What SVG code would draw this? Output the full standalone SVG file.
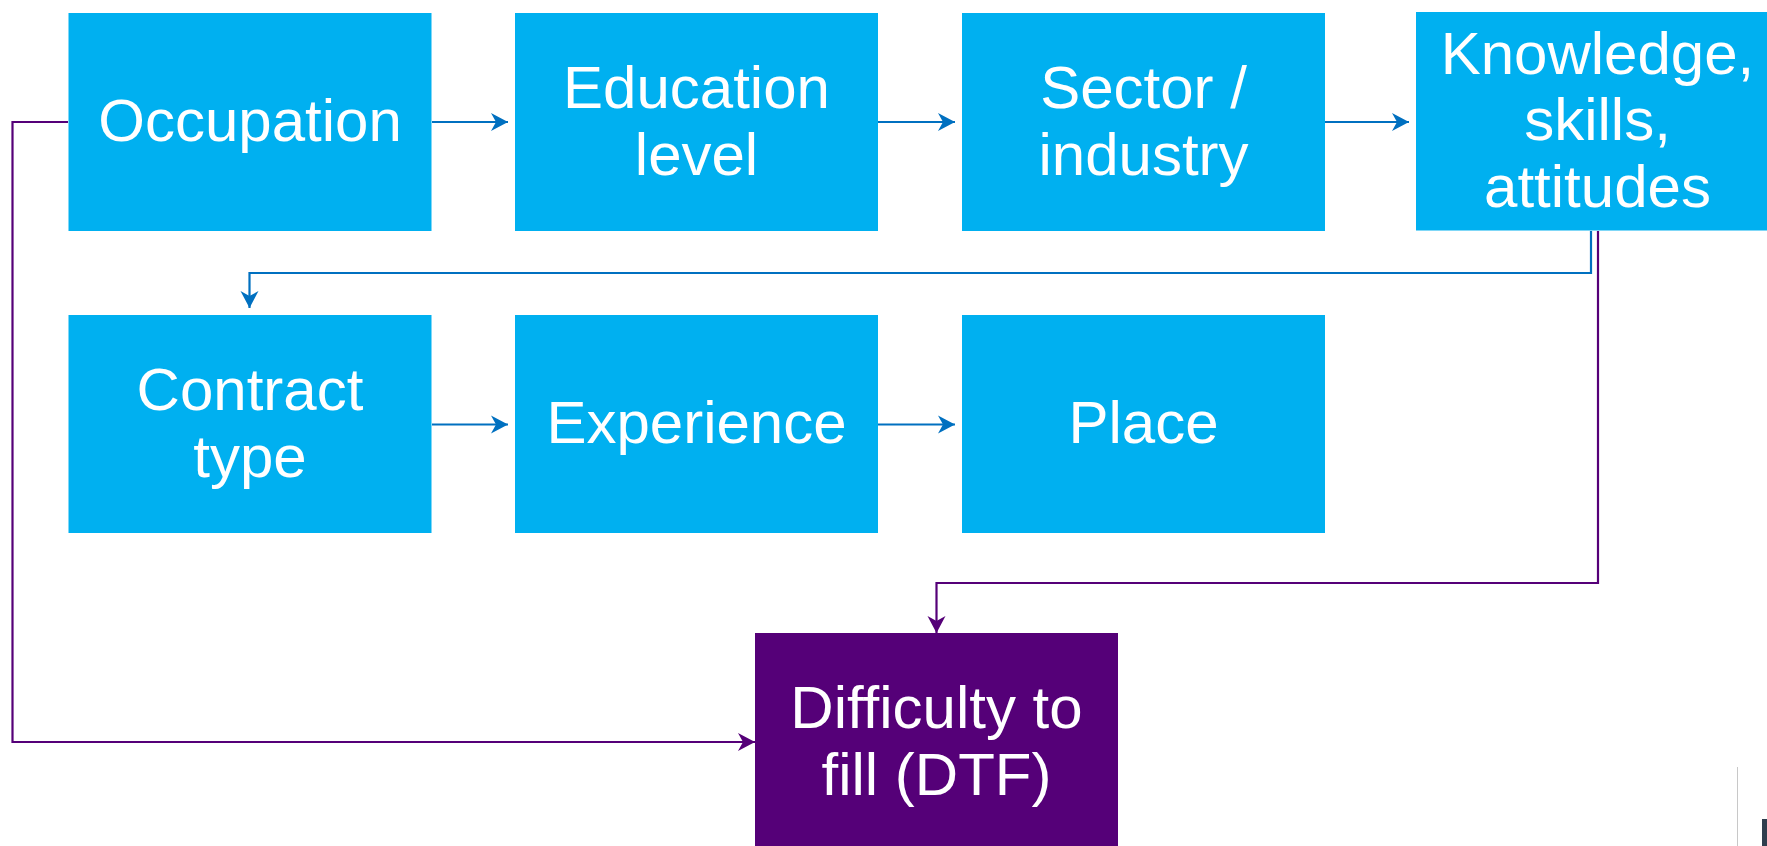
<svg xmlns="http://www.w3.org/2000/svg" width="1767" height="846" viewBox="0 0 1767 846">
  <style>
    .box { fill: #00B0F0; }
    .dtf { fill: #550078; }
    .lbl { font-family: "Liberation Sans", Arial, sans-serif; font-size: 60px; fill: #FFFFFF; text-anchor: middle; }
    .cb { fill: none; stroke: #0070C0; stroke-width: 2.2; }
    .cp { fill: none; stroke: #550078; stroke-width: 2.2; }
  </style>
  <defs>
    <marker id="ab" markerUnits="userSpaceOnUse" markerWidth="18" markerHeight="20" refX="17" refY="9" orient="auto" viewBox="0 0 18 18">
      <path d="M0,0 L17,9 L0,18 L5,9 Z" fill="#0070C0"/>
    </marker>
    <marker id="ap" markerUnits="userSpaceOnUse" markerWidth="18" markerHeight="20" refX="17" refY="9" orient="auto" viewBox="0 0 18 18">
      <path d="M0,0 L17,9 L0,18 L5,9 Z" fill="#550078"/>
    </marker>
  </defs>
  <rect width="1767" height="846" fill="#FFFFFF"/>

  <g id="connectors">
    <path class="cb" d="M432,122 H508" marker-end="url(#ab)"/>
    <path class="cb" d="M878,122 H955" marker-end="url(#ab)"/>
    <path class="cb" d="M1325,122 H1409" marker-end="url(#ab)"/>
    <path class="cb" d="M1591,231 V273 H249.5 V308" marker-end="url(#ab)"/>
    <path class="cb" d="M432,424.5 H508" marker-end="url(#ab)"/>
    <path class="cb" d="M878,424.5 H955" marker-end="url(#ab)"/>
    <path class="cp" d="M68,122 H12.5 V742 H755" marker-end="url(#ap)"/>
    <path class="cp" d="M1598,231 V583 H936.5 V633" marker-end="url(#ap)"/>
  </g>

  <g id="occupation">
    <rect class="box" x="68.5" y="13" width="363" height="218"/>
    <text class="lbl" x="250" y="141">Occupation</text>
  </g>
  <g id="education">
    <rect class="box" x="515" y="13" width="363" height="218"/>
    <text class="lbl" x="696.5" y="108">Education</text>
    <text class="lbl" x="696.5" y="174.5">level</text>
  </g>
  <g id="sector">
    <rect class="box" x="962" y="13" width="363" height="218"/>
    <text class="lbl" x="1143.5" y="108">Sector /</text>
    <text class="lbl" x="1143.5" y="174.5">industry</text>
  </g>
  <g id="knowledge">
    <rect class="box" x="1416" y="12" width="363" height="218.5"/>
    <text class="lbl" x="1597.5" y="73.5">Knowledge,</text>
    <text class="lbl" x="1597.5" y="140">skills,</text>
    <text class="lbl" x="1597.5" y="206.5">attitudes</text>
  </g>
  <g id="contract">
    <rect class="box" x="68.5" y="315" width="363" height="218"/>
    <text class="lbl" x="250" y="410">Contract</text>
    <text class="lbl" x="250" y="476.5">type</text>
  </g>
  <g id="experience">
    <rect class="box" x="515" y="315" width="363" height="218"/>
    <text class="lbl" x="696.5" y="443">Experience</text>
  </g>
  <g id="place">
    <rect class="box" x="962" y="315" width="363" height="218"/>
    <text class="lbl" x="1143.5" y="443">Place</text>
  </g>
  <g id="dtf">
    <rect class="dtf" x="755" y="633" width="363" height="220"/>
    <text class="lbl" x="936.5" y="728">Difficulty to</text>
    <text class="lbl" x="936.5" y="795">fill (DTF)</text>
  </g>

  <line x1="1737.5" y1="767" x2="1737.5" y2="846" stroke="#C8C8C8" stroke-width="1"/>
  <rect x="1762" y="819" width="5" height="27" fill="#2F3E4E"/>
</svg>
